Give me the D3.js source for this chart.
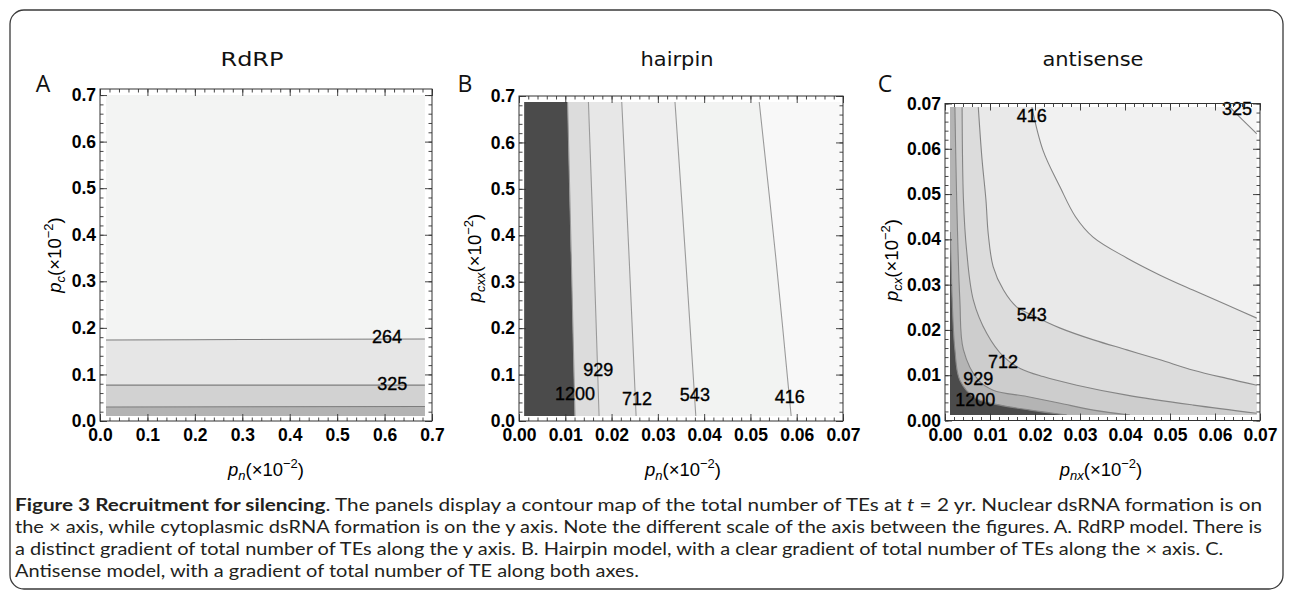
<!DOCTYPE html>
<html lang="en">
<head>
<meta charset="UTF-8">
<title>Recruitment for silencing</title>
<script src="https://cdn.jsdelivr.net/npm/d3@7"></script>
<style>
  body { margin: 0; background: #fff; }
  svg { display: block; }
  .tick text { font-family: "Liberation Sans", Arial, sans-serif; font-weight: bold; font-size: 17.5px; fill: #000; }
</style>
</head>
<body>
<div id="main"></div>
<script>
// ---- values ----
const titles = ["RdRP", "hairpin", "antisense"];
const letters = ["A", "B", "C"];

// A: RdRP
const rdrpTicks = [0, 0.1, 0.2, 0.3, 0.4, 0.5, 0.6, 0.7];
const rdrpLevels = [264, 325, null];
const rdrpContours = [
  [[0.0127, 0.174], [0.30, 0.175], [0.685, 0.176]],
  [[0.0127, 0.077], [0.685, 0.077]],
  [[0.0127, 0.030], [0.685, 0.031]]
];
const rdrpLabelAt = [[0.605, 0.181], [0.616, 0.0795], null];
const rdrpFill = [[0.0127, 0.685], [0.0107, 0.700]];

// B: hairpin
const hairpinTicksX = [0, 0.01, 0.02, 0.03, 0.04, 0.05, 0.06, 0.07];
const hairpinTicksY = [0, 0.1, 0.2, 0.3, 0.4, 0.5, 0.6, 0.7];
const hairpinLevels = [416, 543, 712, 929, 1200];
const hairpinContours = [
  [[0.0519, 0.687], [0.0555, 0.35], [0.0588, 0.0108]],
  [[0.0337, 0.687], [0.0360, 0.35], [0.0382, 0.0108]],
  [[0.0222, 0.687], [0.0238, 0.35], [0.0253, 0.0108]],
  [[0.0150, 0.687], [0.0162, 0.35], [0.0173, 0.0108]],
  [[0.0105, 0.687], [0.0113, 0.35], [0.0121, 0.0108]]
];
const hairpinLabelAt = [[0.0585, 0.052], [0.0380, 0.058], [0.0255, 0.048], [0.0171, 0.110], [0.0121, 0.060]];
const hairpinFill = [[0.0011, 0.0695], [0.0108, 0.687]];

// C: antisense
const antisenseTicks = [0, 0.01, 0.02, 0.03, 0.04, 0.05, 0.06, 0.07];
const antisenseLevels = [325, 416, 543, 712, 929, 1200];
const antisenseContours = [
  [[0.0633, 0.0692], [0.0663, 0.0662], [0.0693, 0.0633]],
  [[0.0193, 0.0692], [0.0218, 0.0596], [0.0256, 0.0515], [0.0290, 0.0450], [0.0329, 0.0405],
   [0.0404, 0.0359], [0.0478, 0.0321], [0.0551, 0.0288], [0.0627, 0.0255], [0.0693, 0.0226]],
  [[0.0074, 0.0692], [0.0082, 0.0580], [0.0091, 0.0487], [0.0096, 0.0413], [0.0107, 0.0340],
   [0.0130, 0.0288], [0.0159, 0.0251], [0.0193, 0.0233], [0.0256, 0.0204], [0.0330, 0.0178],
   [0.0404, 0.0156], [0.0478, 0.0134], [0.0552, 0.0111], [0.0626, 0.0093], [0.0693, 0.0078]],
  [[0.0038, 0.0692], [0.0041, 0.0487], [0.0048, 0.0376], [0.0063, 0.0266], [0.0093, 0.0192],
   [0.0130, 0.0141], [0.0167, 0.0115], [0.0218, 0.0097], [0.0293, 0.0078], [0.0404, 0.0056],
   [0.0552, 0.0034], [0.0693, 0.0016]],
  [[0.0022, 0.0692], [0.0026, 0.0487], [0.0033, 0.0266], [0.0041, 0.0156], [0.0074, 0.0089],
   [0.0107, 0.0067], [0.0182, 0.0053], [0.0256, 0.0038], [0.0330, 0.0023], [0.0411, 0.0012]],
  [[0.0012, 0.0416], [0.0016, 0.0266], [0.0022, 0.0156], [0.0033, 0.0089], [0.0067, 0.0050],
   [0.0122, 0.0034], [0.0189, 0.0023], [0.0271, 0.0012]]
];
const antisenseLabelAt = [[0.0649, 0.0688], [0.0193, 0.0674], [0.0193, 0.0233], [0.0129, 0.0130], [0.0074, 0.0092], [0.0067, 0.0047]];
const antisenseFill = [[0.0011, 0.0693], [0.0012, 0.0692]];

const captionLines = [
  [["b", "Figure 3 Recruitment for silencing"], ["n", ". The panels display a contour map of the total number of TEs at "], ["i", "t"], ["n", " = 2 yr. Nuclear dsRNA formation is on"]],
  [["n", "the \u00d7 axis, while cytoplasmic dsRNA formation is on the y axis. Note the different scale of the axis between the figures. A. RdRP model. There is"]],
  [["n", "a distinct gradient of total number of TEs along the y axis. B. Hairpin model, with a clear gradient of total number of TEs along the \u00d7 axis. C."]],
  [["n", "Antisense model, with a gradient of total number of TE along both axes."]]
];

// ---- layout ----
const W = 1292, H = 597;
const panels = [
  { title: titles[0], letter: letters[0], px: [100, 432], py: [421, 89], dx: [0, 0.7], dy: [0, 0.713],
    xt: rdrpTicks, yt: rdrpTicks, xm: 0.02, ym: 0.02, xf: ".1f", yf: ".1f",
    fill: rdrpFill, contours: rdrpContours, levels: rdrpLevels, labelAt: rdrpLabelAt,
    bg: "#f3f4f3", shades: ["#e6e6e6", "#d2d2d2", "#b3b3b3"], line: "#7d7d7d",
    titleX: 252, titleW: 63, letterX: 43, ySub: "c", xSub: "n", yLabX: 55, yLabY: 255, xLabX: 266 },
  { title: titles[1], letter: letters[1], px: [519, 843], py: [421, 96], dx: [0, 0.07], dy: [0, 0.7],
    xt: hairpinTicksX, yt: hairpinTicksY, xm: 0.002, ym: 0.02, xf: ".2f", yf: ".1f",
    fill: hairpinFill, contours: hairpinContours, levels: hairpinLevels, labelAt: hairpinLabelAt,
    bg: "#f8f8f8", shades: ["#f2f3f2", "#eeeeee", "#e7e7e7", "#dcdcdc", "#4b4b4b"], line: "#9a9a9a",
    titleX: 677, titleW: 73, letterX: 465, ySub: "cxx", xSub: "n", yLabX: 475, yLabY: 258, xLabX: 683 },
  { title: titles[2], letter: letters[2], px: [945, 1260], py: [420.5, 103.5], dx: [0, 0.07], dy: [0, 0.07],
    xt: antisenseTicks, yt: antisenseTicks, xm: 0.002, ym: 0.002, xf: ".2f", yf: ".2f",
    fill: antisenseFill, contours: antisenseContours, levels: antisenseLevels, labelAt: antisenseLabelAt,
    bg: "#f7f7f7", shades: ["#f1f1f1", "#e9e9e9", "#dcdcdc", "#cdcdcd", "#b4b4b4", "#4b4b4b"], line: "#858585",
    titleX: 1093, titleW: 101, letterX: 885, ySub: "cx", xSub: "nx", yLabX: 892, yLabY: 260, xLabX: 1101 }
];

const svg = d3.select("#main").append("svg").attr("width", W).attr("height", H);

// rounded figure box
svg.append("rect")
  .attr("x", 10).attr("y", 10).attr("width", 1273).attr("height", 579).attr("rx", 14)
  .attr("fill", "none").attr("stroke", "#3a3a3a").attr("stroke-width", 1.3);

function axisLabel(g, sub, x, y, rotate) {
  const t = g.append("text")
    .attr("transform", `translate(${x},${y})` + (rotate ? " rotate(-90)" : ""))
    .attr("text-anchor", "middle")
    .attr("dy", "0.35em")
    .style("font-family", "'Liberation Sans', Arial, sans-serif")
    .style("font-size", "18.5px").style("fill", "#000");
  t.append("tspan").style("font-style", "italic").text("p");
  t.append("tspan").style("font-size", "13px").style("font-style", "italic").attr("dy", 4).text(sub);
  t.append("tspan").attr("dy", -4).text("(\u00d710");
  t.append("tspan").style("font-size", "13px").attr("dy", -8).text("\u22122");
  t.append("tspan").attr("dy", 8).text(")");
}

panels.forEach((p, i) => {
  const g = svg.append("g");
  const x = d3.scaleLinear().domain(p.dx).range(p.px);
  const y = d3.scaleLinear().domain(p.dy).range(p.py);
  const [fx, fy] = p.fill;

  const clipId = "clip" + i;
  g.append("clipPath").attr("id", clipId).append("rect")
    .attr("x", x(fx[0])).attr("y", y(fy[1]))
    .attr("width", x(fx[1]) - x(fx[0])).attr("height", y(fy[0]) - y(fy[1]));

  const plot = g.append("g").attr("clip-path", `url(#${clipId})`);
  plot.append("rect")
    .attr("x", x(fx[0])).attr("y", y(fy[1]))
    .attr("width", x(fx[1]) - x(fx[0])).attr("height", y(fy[0]) - y(fy[1]))
    .attr("fill", p.bg);

  const line = d3.line().x(d => x(d[0])).y(d => y(d[1])).curve(d3.curveCatmullRom.alpha(0.5));

  // filled regions: area between each contour and the low corner
  p.contours.forEach((c, k) => {
    const first = c[0], last = c[c.length - 1];
    const tail = [[last[0], fy[0]], [fx[0], fy[0]], [fx[0], first[1]]]
      .map(d => `L${x(d[0])},${y(d[1])}`).join("");
    plot.append("path")
      .attr("d", line(c) + tail + "Z")
      .attr("fill", p.shades[k]);
  });

  p.contours.forEach(c => {
    plot.append("path")
      .attr("d", line(c))
      .attr("fill", "none")
      .attr("stroke", p.line)
      .attr("stroke-width", 1.1);
  });

  // contour labels
  p.levels.forEach((lv, k) => {
    if (lv == null) return;
    const at = p.labelAt[k];
    g.append("text")
      .attr("x", x(at[0])).attr("y", y(at[1]))
      .attr("dy", "0.36em")
      .attr("text-anchor", "middle")
      .style("font-family", "'Liberation Sans', Arial, sans-serif")
      .style("font-size", "18px").style("fill", "#000")
      .style("stroke", "#000").style("stroke-width", 0.35)
      .text(lv);
  });

  // frame ticks, pointing inward
  const xMinor = d3.range(p.dx[0], p.dx[1] + 1e-9, p.xm);
  const yMinor = d3.range(p.dy[0], p.dy[1] + 1e-9, p.ym);
  const axes = [
    [d3.axisBottom, x, p.xt, xMinor, `translate(0,${p.py[0]})`, d3.format(p.xf)],
    [d3.axisTop, x, p.xt, xMinor, `translate(0,${p.py[1]})`, null],
    [d3.axisLeft, y, p.yt, yMinor, `translate(${p.px[0]},0)`, d3.format(p.yf)],
    [d3.axisRight, y, p.yt, yMinor, `translate(${p.px[1]},0)`, null]
  ];
  axes.forEach(([fn, sc, major, minor, tr, fmt]) => {
    const minorAx = g.append("g").attr("transform", tr)
      .call(fn(sc).tickValues(minor).tickSize(-3.5).tickFormat(""));
    const majorAx = g.append("g").attr("transform", tr)
      .call(fn(sc).tickValues(major).tickSize(-7)
        .tickPadding(fn === d3.axisBottom ? 8 : 4)
        .tickFormat(fmt ? fmt : ""));
    [minorAx, majorAx].forEach(a => {
      a.select(".domain").remove();
      a.selectAll("line").attr("stroke", "#333").attr("stroke-width", 0.9);
    });
  });

  g.append("rect")
    .attr("x", p.px[0]).attr("y", p.py[1])
    .attr("width", p.px[1] - p.px[0]).attr("height", p.py[0] - p.py[1])
    .attr("fill", "none").attr("stroke", "#333").attr("stroke-width", 1);

  // titles and panel letters
  g.append("text")
    .attr("x", p.titleX).attr("y", 66)
    .attr("text-anchor", "middle")
    .attr("textLength", p.titleW).attr("lengthAdjust", "spacingAndGlyphs")
    .style("font-family", "'DejaVu Sans', sans-serif")
    .style("font-size", "20px").style("fill", "#111")
    .text(p.title);
  g.append("text")
    .attr("x", p.letterX).attr("y", 92)
    .attr("text-anchor", "middle")
    .style("font-family", "'Open Sans', sans-serif")
    .style("font-size", "23px").style("fill", "#111")
    .text(p.letter);

  axisLabel(g, p.ySub, p.yLabX, p.yLabY, true);
  axisLabel(g, p.xSub, p.xLabX, 470, false);
});

// caption: lines 1-2 fill the width; 3-4 keep the scale of line 2
const caps = captionLines.map((ln, i) => {
  const t = svg.append("text")
    .attr("x", 15).attr("y", 511 + i * 22)
    .style("font-family", "Lato, sans-serif")
    .style("font-size", "16.5px").style("fill", "#231f20");
  ln.forEach(([k, s]) => {
    const ts = t.append("tspan").text(s);
    if (k === "b") ts.style("font-weight", "bold");
    if (k === "i") ts.style("font-style", "italic");
  });
  return t;
});
const natural = caps.map(t => t.node().getComputedTextLength());
const k = 1247 / natural[1];
caps.forEach((t, i) => {
  const w = i === 0 ? 1247 : natural[i] * k;
  t.attr("textLength", w).attr("lengthAdjust", "spacingAndGlyphs");
});
</script>
</body>
</html>
